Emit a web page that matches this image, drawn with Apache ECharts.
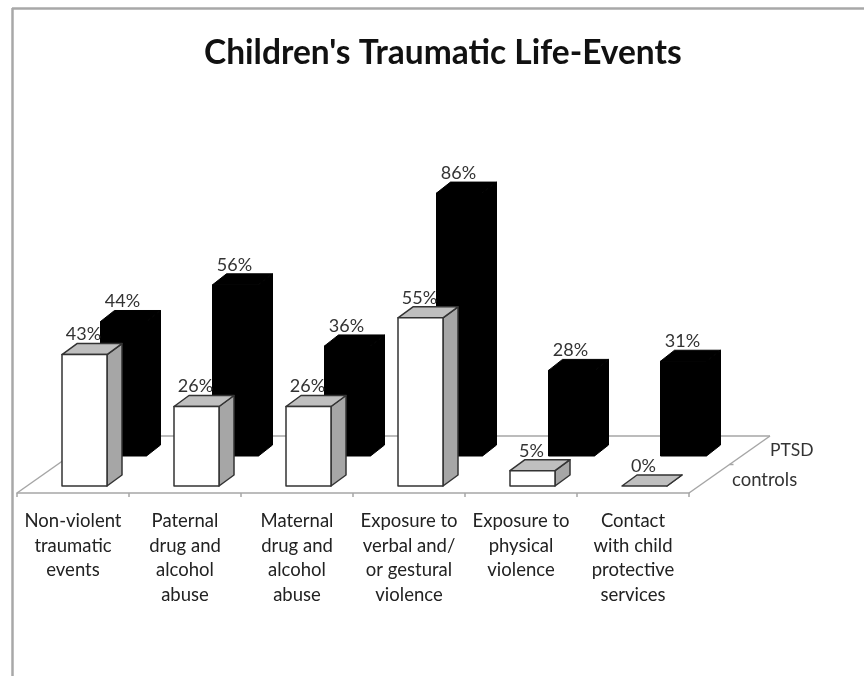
<!DOCTYPE html>
<html>
<head>
<meta charset="utf-8">
<style>html,body{margin:0;padding:0;background:#fff}#c{width:864px;height:676px}</style>
<script src="https://cdn.jsdelivr.net/npm/echarts@6/dist/echarts.min.js"></script>
</head>
<body>
<div id="c"></div>
<script>
const categories = [
  "Non-violent\ntraumatic\nevents",
  "Paternal\ndrug and\nalcohol\nabuse",
  "Maternal\ndrug and\nalcohol\nabuse",
  "Exposure to\nverbal and/\nor gestural\nviolence",
  "Exposure to\nphysical\nviolence",
  "Contact\nwith child\nprotective\nservices"
];
const controls = [43, 26, 26, 55, 5, 0];
const ptsd = [44, 56, 36, 86, 28, 31];
const seriesNames = ["PTSD", "controls"];
const titleText = "Children's Traumatic Life-Events";

const FONT = 'Lato, "Open Sans", sans-serif';
const chart = echarts.init(document.getElementById('c'), null, {renderer: 'canvas'});

function barRenderer(opt) {
  return function (params, api) {
    const idx = api.value(0), val = api.value(1);
    const base = api.coord([idx, 0]);
    const top = api.coord([idx, val]);
    const cx = base[0] + opt.shiftX;
    const x0 = cx - opt.width / 2, x1 = cx + opt.width / 2;
    const yb = base[1] + opt.shiftY, yt = top[1] + opt.shiftY;
    const dx = opt.dx, dy = opt.dy;
    const st = {stroke: opt.stroke, lineWidth: opt.lineWidth, lineJoin: 'round'};
    const children = [];
    children.push({type: 'polygon', shape: {points: [[x1, yt], [x1 + dx, yt - dy], [x1 + dx, yb - dy], [x1, yb]]},
      style: Object.assign({fill: opt.side}, st)});
    children.push({type: 'polygon', shape: {points: [[x0, yt], [x0 + dx, yt - dy], [x1 + dx, yt - dy], [x1, yt]]},
      style: Object.assign({fill: opt.top}, st)});
    if (val > 0) {
      children.push({type: 'rect', shape: {x: x0, y: yt, width: opt.width, height: yb - yt},
        style: Object.assign({fill: opt.front}, st)});
    }
    children.push({type: 'text', z2: 10, style: {x: cx - 1, y: yt - 20, text: val + '%',
      fill: '#333', font: '18px ' + FONT, textAlign: 'center', textVerticalAlign: 'middle'}});
    return {type: 'group', children: children};
  };
}

function floorRenderer(params) {
  const r = params.coordSys;
  const xl = r.x, xr = r.x + r.width, yf = r.y + r.height;
  const dx = 81, dy = 57;
  const ln = {stroke: '#a6a6a6', lineWidth: 1.5, fill: null};
  const seg = (a, b, c, d) => ({type: 'line', shape: {x1: a, y1: b, x2: c, y2: d}, style: ln});
  return {type: 'group', children: [
    seg(xl, yf, xl + dx, yf - dy),
    seg(xl + dx, yf - dy, xr + dx, yf - dy),
    seg(xr + dx, yf - dy, xr, yf),
    seg(xr + dx / 2, yf - dy / 2, xr + dx / 2 + 4, yf - dy / 2),
    {type: 'text', style: {x: xr + 81, y: yf - 43, text: seriesNames[0], fill: '#333',
      font: '17.5px ' + FONT, textVerticalAlign: 'middle'}},
    {type: 'text', style: {x: xr + 43, y: yf - 13, text: seriesNames[1], fill: '#333',
      font: '18.5px ' + FONT, textVerticalAlign: 'middle'}}
  ]};
}

chart.setOption({
  animation: false,
  backgroundColor: '#fff',
  title: {text: titleText, left: 199, top: 31,
    textStyle: {fontFamily: FONT, fontWeight: 'bold', fontSize: 33.5, color: '#111'}},
  grid: {left: 17, right: 175, top: 65, bottom: 183},
  xAxis: {
    type: 'category', data: categories,
    axisLine: {lineStyle: {color: '#a6a6a6', width: 1.5}},
    axisTick: {show: true, alignWithLabel: false, length: 4, lineStyle: {color: '#a6a6a6', width: 1.5}},
    axisLabel: {interval: 0, margin: 16, color: '#222', fontFamily: FONT, fontSize: 18.5, lineHeight: 24.5, align: 'center'}
  },
  yAxis: {type: 'value', min: 0, max: 140, show: false},
  graphic: [
    {type: 'line', silent: true, shape: {x1: 12, y1: 8.5, x2: 864, y2: 8.5}, style: {stroke: '#a8a8a8', lineWidth: 2.5}},
    {type: 'line', silent: true, shape: {x1: 12.5, y1: 8, x2: 12.5, y2: 676}, style: {stroke: '#a8a8a8', lineWidth: 2.5}}
  ],
  series: [
    {type: 'custom', name: 'floor', data: [[0, 0]], renderItem: floorRenderer, clip: false, silent: true, z: 1},
    {type: 'custom', name: seriesNames[0], data: ptsd.map((v, i) => [i, v]), clip: false, silent: true, z: 2,
      encode: {x: 0, y: 1},
      renderItem: barRenderer({width: 46, shiftX: 50.5, shiftY: -37, dx: 14, dy: 11,
        front: '#000', side: '#000', top: '#000', stroke: '#000', lineWidth: 1})},
    {type: 'custom', name: seriesNames[1], data: controls.map((v, i) => [i, v]), clip: false, silent: true, z: 3,
      encode: {x: 0, y: 1},
      renderItem: barRenderer({width: 45, shiftX: 11.5, shiftY: -7, dx: 15, dy: 11,
        front: '#fff', side: '#a6a6a6', top: '#bfbfbf', stroke: '#333', lineWidth: 1.5})}
  ]
});
</script>
</body>
</html>
